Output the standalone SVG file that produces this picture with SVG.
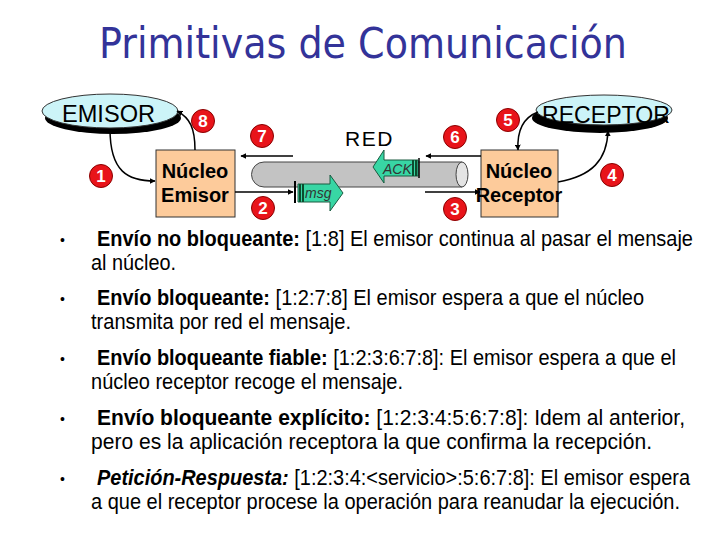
<svg xmlns="http://www.w3.org/2000/svg" width="720" height="540" viewBox="0 0 720 540">
<style>
.title{font-family:"DejaVu Sans",sans-serif;font-size:42px;fill:#333399}
.ell{fill:#ccf4f8;stroke:#333;stroke-width:1}
.shadow{fill:#000}
.ellt{font-family:"Liberation Sans",Arial,sans-serif;font-size:23px;fill:#000}
.box{fill:#fdcb9b;stroke:#333;stroke-width:1}
.boxt{font-family:"Liberation Sans",Arial,sans-serif;font-size:20px;font-weight:bold;fill:#000;text-anchor:middle}
.badge circle{fill:#e8141a;stroke:#8a0000;stroke-width:1}
.badge text{font-family:"Liberation Sans",Arial,sans-serif;font-size:17px;font-weight:bold;fill:#fff;text-anchor:middle}
.con{fill:none;stroke:#000;stroke-width:1.5}
.green{fill:#38d6a4;stroke:#1a5a40;stroke-width:1}
.bar{stroke:#0b4d2e;stroke-width:2}
.it{font-family:"Liberation Sans",Arial,sans-serif;font-size:14px;font-style:italic;fill:#333}
.bt{font-family:"Liberation Sans",Arial,sans-serif;font-size:21.5px;fill:#000}
.b{font-weight:bold}
.bul{font-family:"Liberation Sans",Arial,sans-serif;font-size:14px;fill:#000}
</style>
<defs>
<marker id="ah" viewBox="0 0 10 10" refX="9" refY="5" markerWidth="6" markerHeight="6" orient="auto" markerUnits="userSpaceOnUse">
<path d="M0,0 L10,5 L0,10 z" fill="#000"/>
</marker>
</defs>
<rect width="720" height="540" fill="#fff"/>
<text class="title" x="99" y="58" textLength="528" lengthAdjust="spacingAndGlyphs">Primitivas de Comunicación</text>

<g id="emisor">
<ellipse class="shadow" cx="113" cy="118" rx="68" ry="16"/>
<ellipse class="ell" cx="110" cy="111" rx="68" ry="17"/>
<text class="ellt" x="62" y="122" textLength="93" lengthAdjust="spacingAndGlyphs">EMISOR</text>
</g>
<g id="receptor">
<ellipse class="shadow" cx="600" cy="118" rx="68" ry="15"/>
<ellipse class="ell" cx="604" cy="110" rx="68" ry="15"/>
<text class="ellt" x="542" y="123" textLength="128" lengthAdjust="spacingAndGlyphs">RECEPTOR</text>
</g>

<g id="nucleo-emisor">
<rect class="box" x="156" y="150" width="79" height="67"/>
<text class="boxt" x="195" y="178">Núcleo</text>
<text class="boxt" x="195" y="202">Emisor</text>
</g>
<g id="nucleo-receptor">
<rect class="box" x="481" y="150" width="77" height="67"/>
<text class="boxt" x="519" y="178">Núcleo</text>
<text class="boxt" x="519" y="202">Receptor</text>
</g>

<g id="red">
<text x="345" y="146" font-family="Liberation Sans,Arial,sans-serif" font-size="21" fill="#000" letter-spacing="1.5">RED</text>
<path d="M264,162 H462 V187 H264 A12.5,12.5 0 0 1 264,162 Z" fill="#c3c3c3" stroke="#444" stroke-width="1"/>
<ellipse cx="462" cy="174.5" rx="6" ry="12.5" fill="#e4e4e4" stroke="#444" stroke-width="1"/>
</g>

<g id="msg">
<polygon class="green" points="298,184 330,184 330,175 343,193 330,211 330,202 298,202"/>
<line class="bar" x1="300" y1="184" x2="300" y2="202"/>
<line class="bar" x1="303" y1="184" x2="303" y2="202"/>
<text class="it" x="305" y="198">msg</text>
</g>
<g id="ack">
<polygon class="green" points="418,160 384,160 384,150 373,167 384,183 384,176 418,176"/>
<line class="bar" x1="413" y1="160" x2="413" y2="176"/>
<line class="bar" x1="416" y1="160" x2="416" y2="176"/>
<line x1="419" y1="158" x2="419" y2="178" stroke="#000" stroke-width="1.5"/>
<text class="it" x="383" y="174">ACK</text>
</g>

<g id="connectors">
<path class="con" d="M110,129 C110,172 128,181 155,181" marker-end="url(#ah)"/>
<path class="con" d="M195,150 C195,128 190,118 177,111" marker-end="url(#ah)"/>
<path class="con" d="M293,156 H241" marker-end="url(#ah)"/>
<path class="con" d="M235,192 H293" marker-end="url(#ah)"/>
<line x1="295" y1="181" x2="295" y2="203" stroke="#000" stroke-width="2"/>
<path class="con" d="M481,156 H426" marker-end="url(#ah)"/>
<path class="con" d="M425,192 H480" marker-end="url(#ah)"/>
<path class="con" d="M538,112 C522,118 517,132 518,150" marker-end="url(#ah)"/>
<path class="con" d="M558,182 C592,176 607,160 608,131" marker-end="url(#ah)"/>
</g>

<g id="badges">
<g class="badge"><circle cx="101" cy="176" r="11.5"/><text x="101" y="182">1</text></g>
<g class="badge"><circle cx="263" cy="208" r="11.5"/><text x="263" y="214">2</text></g>
<g class="badge"><circle cx="455" cy="209" r="11.5"/><text x="455" y="215">3</text></g>
<g class="badge"><circle cx="612" cy="175" r="11.5"/><text x="612" y="181">4</text></g>
<g class="badge"><circle cx="508" cy="120" r="11.5"/><text x="508" y="126">5</text></g>
<g class="badge"><circle cx="455" cy="137" r="11.5"/><text x="455" y="143">6</text></g>
<g class="badge"><circle cx="262" cy="136" r="11.5"/><text x="262" y="142">7</text></g>
<g class="badge"><circle cx="203" cy="121" r="11.5"/><text x="203" y="127">8</text></g>
</g>

<g id="bullet-marks">
<text class="bul" x="60" y="245">•</text>
<text class="bul" x="60" y="304">•</text>
<text class="bul" x="60" y="364">•</text>
<text class="bul" x="60" y="424">•</text>
<text class="bul" x="60" y="484">•</text>
</g>
<g id="bullets" transform="scale(0.82,1)">
<text class="bt" x="118.3" y="246" textLength="726.8" lengthAdjust="spacingAndGlyphs"><tspan class="b">Envío no bloqueante:</tspan> [1:8] El emisor continua al pasar el mensaje</text>
<text class="bt" x="111" y="270" textLength="103.7" lengthAdjust="spacingAndGlyphs">al núcleo.</text>

<text class="bt" x="118.3" y="305" textLength="667.1" lengthAdjust="spacingAndGlyphs"><tspan class="b">Envío bloqueante:</tspan> [1:2:7:8] El emisor espera a que el núcleo</text>
<text class="bt" x="111" y="329" textLength="317.1" lengthAdjust="spacingAndGlyphs">transmita por red el mensaje.</text>

<text class="bt" x="118.3" y="365" textLength="706.1" lengthAdjust="spacingAndGlyphs"><tspan class="b">Envío bloqueante fiable:</tspan> [1:2:3:6:7:8]: El emisor espera a que el</text>
<text class="bt" x="111" y="389" textLength="380.5" lengthAdjust="spacingAndGlyphs">núcleo receptor recoge el mensaje.</text>

<text class="bt" x="118.3" y="425" textLength="717.1" lengthAdjust="spacingAndGlyphs"><tspan class="b">Envío bloqueante explícito:</tspan> [1:2:3:4:5:6:7:8]: Idem al anterior,</text>
<text class="bt" x="111" y="449" textLength="684.1" lengthAdjust="spacingAndGlyphs">pero es la aplicación receptora la que confirma la recepción.</text>

<text class="bt" x="118.3" y="485" textLength="723.2" lengthAdjust="spacingAndGlyphs"><tspan class="b" font-style="italic">Petición-Respuesta:</tspan> [1:2:3:4:&lt;servicio&gt;:5:6:7:8]: El emisor espera</text>
<text class="bt" x="111" y="509" textLength="718.3" lengthAdjust="spacingAndGlyphs">a que el receptor procese la operación para reanudar la ejecución.</text>
</g>
</svg>
